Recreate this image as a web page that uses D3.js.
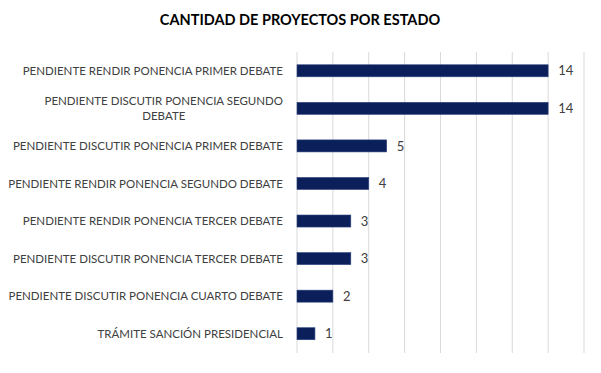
<!DOCTYPE html>
<html>
<head>
<meta charset="utf-8">
<script src="https://cdn.jsdelivr.net/npm/d3@7"></script>
<style>
  body { margin: 0; background: #fff; }
  svg text { font-family: Lato, "Open Sans", sans-serif; }
</style>
</head>
<body>
<div id="chart"></div>
<script>
// categories, top to bottom
const estados = [
  ["PENDIENTE RENDIR PONENCIA PRIMER DEBATE"],
  ["PENDIENTE DISCUTIR PONENCIA SEGUNDO", "DEBATE"],
  ["PENDIENTE DISCUTIR PONENCIA PRIMER DEBATE"],
  ["PENDIENTE RENDIR PONENCIA SEGUNDO DEBATE"],
  ["PENDIENTE RENDIR PONENCIA TERCER DEBATE"],
  ["PENDIENTE DISCUTIR PONENCIA TERCER DEBATE"],
  ["PENDIENTE DISCUTIR PONENCIA CUARTO DEBATE"],
  ["TRÁMITE SANCIÓN PRESIDENCIAL"]
];
const proyectos = [14, 14, 5, 4, 3, 3, 2, 1];
const gridTicks = [0, 2, 4, 6, 8, 10, 12, 14, 16];
const titulo = "CANTIDAD DE PROYECTOS POR ESTADO";

const width = 601;
const height = 373;
const margin = { top: 52, right: 17, bottom: 20, left: 297 };

const svg = d3
  .select("#chart")
  .append("svg")
  .attr("width", width)
  .attr("height", height);

const xScale = d3.scaleLinear().domain([0, 16]).range([margin.left, width - margin.right]);
const yScale = d3
  .scaleBand()
  .domain(d3.range(estados.length))
  .range([margin.top, height - margin.bottom - 0.5])
  .paddingInner(0.68)
  .paddingOuter(0.34);

// title
svg
  .append("text")
  .attr("x", 300)
  .attr("y", 25)
  .attr("text-anchor", "middle")
  .style("font-size", "14.5px")
  .style("font-weight", "bold")
  .style("fill", "#000")
  .text(titulo);

// vertical gridlines
svg
  .append("g")
  .selectAll("line")
  .data(gridTicks)
  .enter()
  .append("line")
  .attr("x1", (d) => xScale(d))
  .attr("x2", (d) => xScale(d))
  .attr("y1", margin.top)
  .attr("y2", height - margin.bottom)
  .style("stroke", "#d9d9d9")
  .style("stroke-width", 1);

// bars
svg
  .append("g")
  .selectAll("rect")
  .data(proyectos)
  .enter()
  .append("rect")
  .attr("x", xScale(0))
  .attr("y", (d, i) => yScale(i))
  .attr("width", (d) => xScale(d) - xScale(0))
  .attr("height", yScale.bandwidth())
  .style("fill", "#0b1f5b")
  .style("stroke", "#2f4580")
  .style("stroke-width", 0.6);

// value labels
svg
  .append("g")
  .selectAll("text")
  .data(proyectos)
  .enter()
  .append("text")
  .attr("x", (d) => xScale(d) + 10)
  .attr("y", (d, i) => yScale(i) + yScale.bandwidth() / 2)
  .attr("dy", "0.36em")
  .style("font-size", "13px")
  .style("fill", "#404040")
  .text((d) => d);

// category labels (multi-line ones are centred on their block)
const labels = svg
  .append("g")
  .selectAll("text")
  .data(estados)
  .enter()
  .append("text")
  .style("font-size", "11.5px")
  .style("fill", "#404040");

labels.each(function (lines, i) {
  const t = d3.select(this);
  const cy = yScale(i) + yScale.bandwidth() / 2;
  const lineH = 15;
  const y0 = cy - ((lines.length - 1) * lineH) / 2;
  lines.forEach((ln, j) => {
    t.append("tspan")
      .attr("y", y0 + j * lineH)
      .attr("dy", "0.36em")
      .text(ln);
  });
  // right-align the block, centre its lines
  const spans = t.selectAll("tspan").nodes();
  const widths = spans.map((s) => s.getComputedTextLength());
  const maxW = d3.max(widths);
  const right = 283;
  spans.forEach((s, j) => {
    d3.select(s).attr("x", right - maxW + (maxW - widths[j]) / 2);
  });
});
</script>
</body>
</html>
